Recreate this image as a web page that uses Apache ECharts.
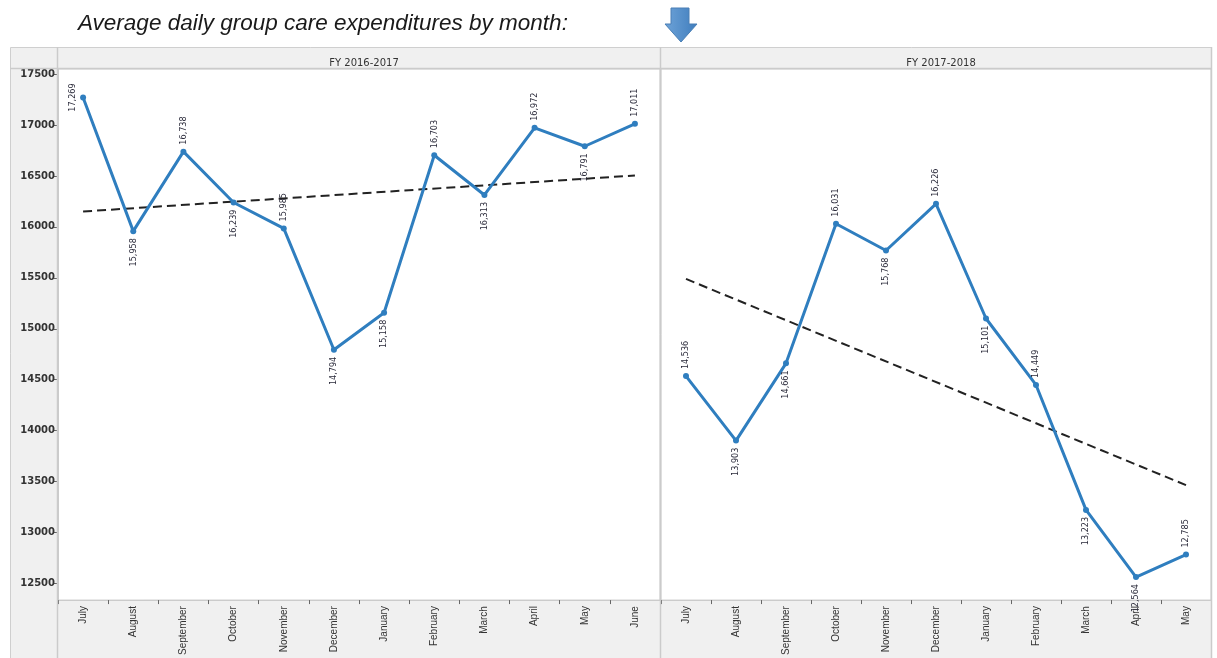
<!DOCTYPE html>
<html>
<head>
<meta charset="utf-8">
<script src="https://cdn.jsdelivr.net/npm/echarts@6/dist/echarts.min.js"></script>
<style>
html,body{margin:0;padding:0;background:#fff;}
#chart{width:1217px;height:658px;}
</style>
</head>
<body>
<div id="chart"></div>
<script>
const months1 = ['July','August','September','October','November','December','January','February','March','April','May','June'];
const months2 = ['July','August','September','October','November','December','January','February','March','April','May'];
const fy1 = [17269, 15958, 16738, 16239, 15985, 14794, 15158, 16703, 16313, 16972, 16791, 17011];
const fy2 = [14536, 13903, 14661, 16031, 15768, 16226, 15101, 14449, 13223, 12564, 12785];
const trend1 = [16151, 16504];
const trend2 = [15489, 13466];
const yTicks = [12500, 13000, 13500, 14000, 14500, 15000, 15500, 16000, 16500, 17000, 17500];
const panelTitles = ['FY 2016-2017', 'FY 2017-2018'];
const chartTitle = 'Average daily group care expenditures by month:';
// label side per point (style)
const side1 = ['left','bottom','top','bottom','top','bottom','bottom','top','bottom','top','bottom','top'];
const side2 = ['top','bottom','bottom','top','bottom','top','bottom','top','bottom','bottom','top'];

const LINE = '#2f7ebf';
const GRIDC = '#cbcbcb';

function labelFor(side){
  const base = {show:true, rotate:90, distance:4, fontSize:9, color:'#2a2a3a',
    fontFamily:"'Liberation Sans Narrow','DejaVu Sans Condensed','Liberation Sans',sans-serif",
    formatter: p => Number(p.value).toLocaleString('en-US')};
  if(side==='top') return Object.assign(base,{position:'top', align:'left', verticalAlign:'middle'});
  if(side==='bottom') return Object.assign(base,{position:'bottom', align:'right', verticalAlign:'middle'});
  return Object.assign(base,{position:'left', align:'center', verticalAlign:'bottom', distance:3});
}
function pts(vals, sides){
  return vals.map((v,i)=>({value:v, label:labelFor(sides[i])}));
}

const yMin = 12338, yMax = 17549;
function yAxisCfg(idx, show){
  return {
    type:'value', gridIndex:idx, min:yMin, max:yMax, position:'left',
    axisLine:{show:show, lineStyle:{color:GRIDC}},
    axisTick:{show:show, length:4, customValues:yTicks, lineStyle:{color:'#666'}},
    axisLabel:{show:show, customValues:yTicks, margin:3, fontSize:10, fontWeight:'bold', color:'#333',
      fontFamily:"'DejaVu Sans',sans-serif", formatter: v => String(v)},
    splitLine:{show:false}
  };
}
function xAxisCfg(idx, cats){
  return {
    type:'category', gridIndex:idx, data:cats, boundaryGap:true,
    axisLine:{show:true, lineStyle:{color:GRIDC}},
    axisTick:{show:true, length:4, interval:0, lineStyle:{color:'#666'}},
    axisLabel:{interval:0, rotate:90, margin:6, fontSize:10, color:'#333',
      fontFamily:"'Liberation Sans',sans-serif"},
    splitLine:{show:false}
  };
}

const chart = echarts.init(document.getElementById('chart'), null, {renderer:'canvas'});
chart.setOption({
  animation:false,
  backgroundColor:'#fff',
  title:[
    {text:panelTitles[0], left:359, top:53, textAlign:'center',
      textStyle:{fontSize:10, fontWeight:'normal', color:'#333', fontFamily:"'DejaVu Sans',sans-serif"}},
    {text:panelTitles[1], left:936, top:53, textAlign:'center',
      textStyle:{fontSize:10, fontWeight:'normal', color:'#333', fontFamily:"'DejaVu Sans',sans-serif"}}
  ],
  graphic:[
    {type:'rect', z:-10, shape:{x:10.5, y:47.5, width:1201, height:620},
      style:{fill:'#f0f0f0', stroke:'#cfcfcf', lineWidth:1}},
    {type:'line', z:100, shape:{x1:10, y1:68.5, x2:1211, y2:68.5}, style:{stroke:GRIDC, lineWidth:1.5}},
    {type:'line', z:100, shape:{x1:57.5, y1:47, x2:57.5, y2:658}, style:{stroke:GRIDC, lineWidth:1.5}},
    {type:'line', z:100, shape:{x1:660.5, y1:47, x2:660.5, y2:658}, style:{stroke:GRIDC, lineWidth:1.5}},
    {type:'line', z:100, shape:{x1:1211.5, y1:47, x2:1211.5, y2:658}, style:{stroke:GRIDC, lineWidth:1.5}},
    {type:'text', left:78, top:12, style:{text:chartTitle, fontSize:22.5, fontStyle:'italic',
      fontFamily:"'Liberation Sans',sans-serif", fill:'#1a1a1a'}},
    {type:'polygon', shape:{points:[[671,8],[689,8],[689,24],[697,24],[681,42],[665,24],[671,24]]},
      style:{fill:new echarts.graphic.LinearGradient(0,0,1,0,[{offset:0,color:'#6ea3d8'},{offset:1,color:'#3f7dbd'}]),
        stroke:'#4a7fb5', lineWidth:1}}
  ],
  grid:[
    {left:58, top:69, width:602, height:532, show:true, backgroundColor:'#fff', borderColor:GRIDC, borderWidth:1},
    {left:661, top:69, width:550, height:532, show:true, backgroundColor:'#fff', borderColor:GRIDC, borderWidth:1}
  ],
  xAxis:[xAxisCfg(0, months1), xAxisCfg(1, months2)],
  yAxis:[yAxisCfg(0, true), yAxisCfg(1, false)],
  series:[
    {type:'line', xAxisIndex:0, yAxisIndex:0, data:pts(fy1, side1), symbol:'circle', symbolSize:6,
      itemStyle:{color:LINE}, lineStyle:{color:LINE, width:3}, z:3},
    {type:'line', xAxisIndex:1, yAxisIndex:1, data:pts(fy2, side2), symbol:'circle', symbolSize:6,
      itemStyle:{color:LINE}, lineStyle:{color:LINE, width:3}, z:3},
    {type:'line', xAxisIndex:0, yAxisIndex:0, symbol:'none', silent:true, z:2,
      data:[[months1[0], trend1[0]], [months1[months1.length-1], trend1[1]]],
      lineStyle:{color:'#222', width:2, type:[9,5]}},
    {type:'line', xAxisIndex:1, yAxisIndex:1, symbol:'none', silent:true, z:2,
      data:[[months2[0], trend2[0]], [months2[months2.length-1], trend2[1]]],
      lineStyle:{color:'#222', width:2, type:[9,5]}}
  ]
});
</script>
</body>
</html>
